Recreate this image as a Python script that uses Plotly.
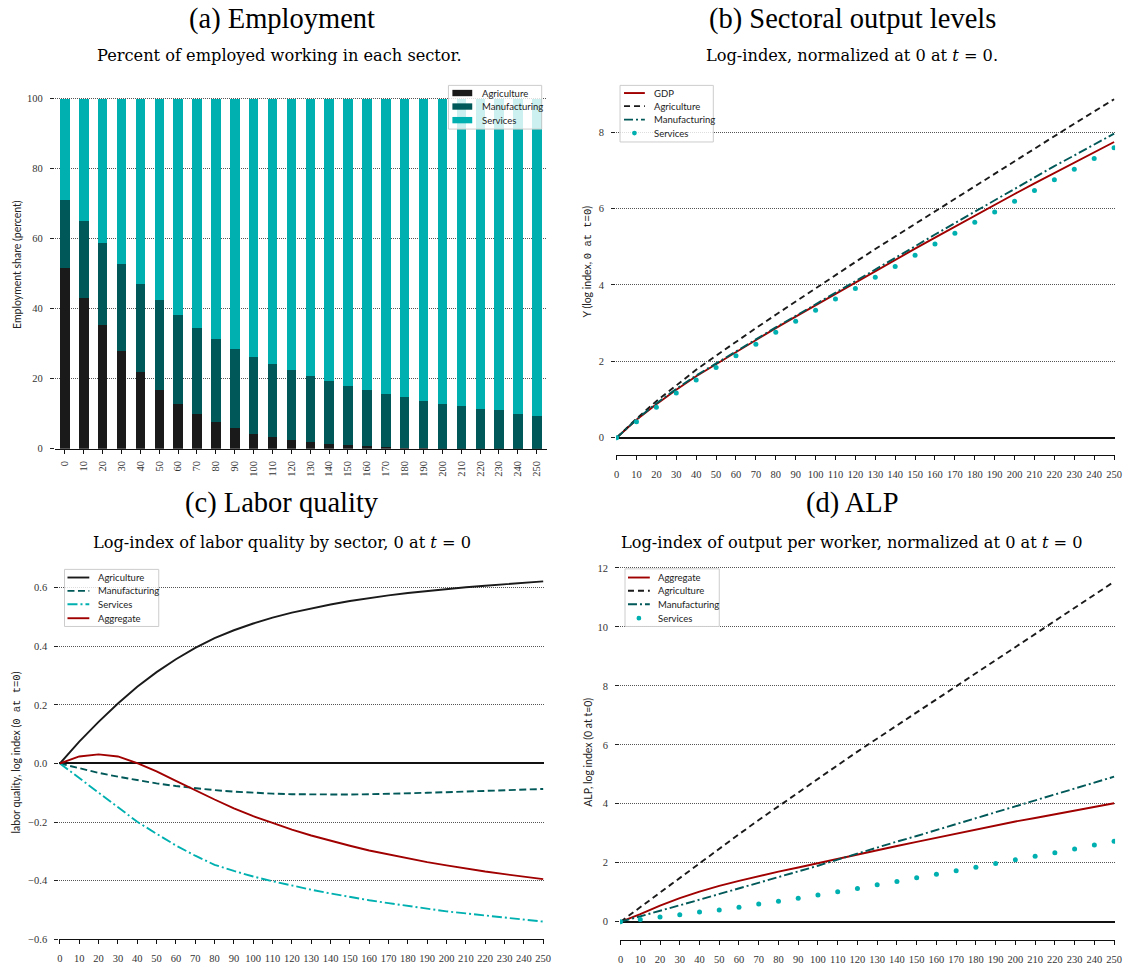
import plotly.graph_objects as go

W, H = 1132, 972


def fx(p):
    return p / W


def fy(p):
    return 1 - p / H


years = list(range(0, 251, 10))

# (a) employment shares, percent of employed
emp_agriculture = [51.5, 43.2, 35.3, 28.0, 22.0, 16.9, 12.9, 10.1, 7.6, 5.9, 4.4, 3.3, 2.5,
                   1.9, 1.3, 1.0, 0.8, 0.5, 0.3, 0.2, 0.1, 0.1, 0.05, 0.03, 0.02, 0.01]
emp_manufacturing = [19.5, 21.9, 23.5, 24.9, 25.2, 25.5, 25.2, 24.4, 23.8, 22.6, 21.9, 21.0, 20.1,
                     19.0, 18.2, 17.0, 16.1, 15.3, 14.6, 13.6, 12.8, 12.3, 11.45, 10.97, 10.08, 9.49]
emp_services = [round(100 - a - m, 2) for a, m in zip(emp_agriculture, emp_manufacturing)]

# (b) sectoral output, log index
out_gdp = [0, 0.47, 0.88, 1.26, 1.61, 1.93, 2.25, 2.56, 2.87, 3.17, 3.47, 3.77, 4.07,
           4.37, 4.66, 4.95, 5.24, 5.53, 5.82, 6.10, 6.38, 6.66, 6.93, 7.20, 7.47, 7.74]
out_agriculture = [0, 0.50, 0.96, 1.38, 1.78, 2.15, 2.52, 2.87, 3.22, 3.57, 3.92, 4.26, 4.60,
                   4.94, 5.27, 5.60, 5.93, 6.26, 6.59, 6.92, 7.24, 7.57, 7.89, 8.22, 8.54, 8.86]
out_manufacturing = [0, 0.48, 0.90, 1.28, 1.63, 1.95, 2.27, 2.58, 2.89, 3.19, 3.49, 3.79, 4.10,
                     4.41, 4.71, 5.01, 5.32, 5.62, 5.92, 6.22, 6.52, 6.82, 7.11, 7.39, 7.68, 7.96]
out_services = [0, 0.42, 0.80, 1.17, 1.51, 1.84, 2.15, 2.45, 2.76, 3.05, 3.34, 3.63, 3.91,
                4.20, 4.48, 4.78, 5.07, 5.35, 5.64, 5.91, 6.19, 6.47, 6.75, 7.03, 7.31, 7.59]

# (c) labor quality, log index
lq_agriculture = [0, 0.075, 0.142, 0.205, 0.262, 0.312, 0.356, 0.395, 0.428, 0.455, 0.478, 0.498, 0.515,
                  0.530, 0.543, 0.555, 0.565, 0.574, 0.582, 0.589, 0.596, 0.602, 0.607, 0.612, 0.617, 0.622]
lq_manufacturing = [0, -0.017, -0.032, -0.045, -0.057, -0.068, -0.077, -0.085, -0.091, -0.096, -0.100,
                    -0.103, -0.105, -0.106, -0.106, -0.106, -0.105, -0.104, -0.102, -0.100, -0.098,
                    -0.096, -0.094, -0.092, -0.089, -0.087]
lq_services = [0, -0.050, -0.100, -0.151, -0.199, -0.240, -0.280, -0.315, -0.346, -0.367, -0.386,
               -0.402, -0.417, -0.431, -0.444, -0.456, -0.467, -0.477, -0.487, -0.496, -0.505,
               -0.512, -0.519, -0.526, -0.533, -0.540]
lq_aggregate = [0, 0.024, 0.031, 0.024, 0.001, -0.027, -0.059, -0.092, -0.123, -0.153, -0.180,
                -0.203, -0.226, -0.246, -0.264, -0.281, -0.297, -0.311, -0.325, -0.337, -0.348,
                -0.359, -0.369, -0.378, -0.387, -0.395]

# (d) output per worker, log index
alp_aggregate = [0, 0.26, 0.55, 0.80, 1.02, 1.22, 1.39, 1.55, 1.70, 1.84, 1.99, 2.13, 2.28,
                 2.43, 2.57, 2.71, 2.85, 2.99, 3.13, 3.27, 3.40, 3.52, 3.65, 3.77, 3.90, 4.02]
alp_agriculture = [0, 0.50, 1.00, 1.50, 2.00, 2.49, 2.97, 3.45, 3.92, 4.39, 4.85, 5.31, 5.77,
                   6.22, 6.66, 7.10, 7.54, 7.98, 8.42, 8.86, 9.30, 9.74, 10.18, 10.63, 11.08, 11.53]
alp_manufacturing = [0, 0.18, 0.37, 0.56, 0.75, 0.94, 1.13, 1.32, 1.51, 1.71, 1.90, 2.11, 2.32,
                     2.52, 2.72, 2.91, 3.11, 3.31, 3.51, 3.71, 3.91, 4.11, 4.31, 4.51, 4.72, 4.92]
alp_services = [0, 0.08, 0.16, 0.24, 0.33, 0.40, 0.49, 0.60, 0.70, 0.80, 0.91, 1.02, 1.13,
                1.26, 1.37, 1.49, 1.61, 1.73, 1.85, 1.98, 2.10, 2.22, 2.34, 2.47, 2.60, 2.73]

BLACK = "#1a1a1a"
DARK_TEAL = "#005858"
TEAL = "#00b0b0"
RED = "#a00000"
DASH = "6px,4px"
DASHDOT = "9px,3px,2px,3px"
SERIF = "Liberation Serif"
SUB_SERIF = "DejaVu Serif"
SANS = "Lato"
MONO = "Liberation Mono"
LW = 1.9

fig = go.Figure()

# ---- (a) stacked employment bars
for vals, col in [(emp_agriculture, BLACK), (emp_manufacturing, DARK_TEAL), (emp_services, TEAL)]:
    fig.add_trace(go.Bar(x=years, y=vals, width=5, marker=dict(color=col, line=dict(width=0)),
                         xaxis="x", yaxis="y", showlegend=False))


def line(xa, ya, ys, color, dash="solid"):
    fig.add_trace(go.Scatter(x=years, y=ys, mode="lines", xaxis=xa, yaxis=ya, showlegend=False,
                             line=dict(color=color, width=LW, dash=dash)))


def dots(xa, ya, ys, color):
    fig.add_trace(go.Scatter(x=years, y=ys, mode="markers", xaxis=xa, yaxis=ya, showlegend=False,
                             marker=dict(color=color, size=5, line=dict(width=0))))


# ---- (b) sectoral output
line("x2", "y2", out_gdp, RED)
line("x2", "y2", out_agriculture, BLACK, DASH)
line("x2", "y2", out_manufacturing, DARK_TEAL, DASHDOT)
dots("x2", "y2", out_services, TEAL)

# ---- (c) labor quality
line("x3", "y3", lq_agriculture, BLACK)
line("x3", "y3", lq_manufacturing, DARK_TEAL, "7px,3.5px")
line("x3", "y3", lq_services, TEAL, "10px,3px,2px,3px")
line("x3", "y3", lq_aggregate, RED)

# ---- (d) ALP
line("x4", "y4", alp_aggregate, RED)
line("x4", "y4", alp_agriculture, BLACK, DASH)
line("x4", "y4", alp_manufacturing, DARK_TEAL, DASHDOT)
dots("x4", "y4", alp_services, TEAL)

tickfont = dict(family=SERIF, size=10.5, color="#333")


def yax(domain_px, rng, tickvals, fmt=None, zero=True):
    d = dict(domain=[fy(domain_px[1]), fy(domain_px[0])], range=rng, tickvals=tickvals,
             showgrid=True, gridcolor="#555", griddash="1px,1px", gridwidth=1,
             ticks="outside", ticklen=4, tickcolor="#222", tickwidth=1,
             ticklabelstandoff=5, tickfont=tickfont, showline=False,
             zeroline=zero, zerolinecolor="#111", zerolinewidth=1.7)
    if fmt:
        d["tickformat"] = fmt
    return d


def xax(domain_px, rng, anchor, angle=0, standoff=4):
    return dict(domain=[fx(domain_px[0]), fx(domain_px[1])], range=rng, anchor=anchor,
                tickvals=years, ticktext=[str(v) for v in years], tickangle=angle,
                showgrid=False, zeroline=False, showline=True, linecolor="#111", linewidth=1.2,
                ticks="outside", ticklen=4, tickcolor="#111", tickwidth=1,
                ticklabelstandoff=standoff, tickfont=tickfont)


fig.update_layout(
    width=W, height=H, margin=dict(l=0, r=0, t=0, b=0),
    paper_bgcolor="white", plot_bgcolor="white", barmode="stack", bargap=0,
    showlegend=False,
    xaxis=xax((53.3, 549), [-5.25, 255.25], "y", angle=-90, standoff=3),
    yaxis=yax((87.4, 451), [0, 103], [0, 20, 40, 60, 80, 100], zero=False),
    xaxis2=xax((619, 1122), [-0.25, 250.5], "y2", standoff=5),
    yaxis2=yax((82, 457.3), [-0.45, 9.3], [0, 2, 4, 6, 8]),
    xaxis3=xax((57.8, 546.5), [-0.3, 250.5], "y3", standoff=5),
    yaxis3=yax((570.4, 945), [-0.6, 0.67], [-0.6, -0.4, -0.2, 0.0, 0.2, 0.4, 0.6], fmt=".1f"),
    xaxis4=xax((623, 1122), [-0.25, 250.5], "y4", standoff=5),
    yaxis4=yax((566.5, 945.9), [-0.62, 12.15], [0, 2, 4, 6, 8, 10, 12]),
)
for k in ["yaxis", "yaxis2", "yaxis3", "yaxis4"]:
    n = k.replace("yaxis", "")
    fig.layout[k].anchor = "x" + n

annotations = []
shapes = []


def text(x, y, s, size, family, anchor="center", angle=0, color="#000"):
    annotations.append(dict(x=fx(x), y=fy(y), xref="paper", yref="paper", text=s, showarrow=False,
                            xanchor=anchor, yanchor="middle", textangle=angle,
                            font=dict(family=family, size=size, color=color)))


# panel titles and subtitles
TS, SS = 28.5, 16.2
text(282, 18, "(a) Employment", TS, SERIF)
text(280, 55, "Percent of employed working in each sector.", SS, SUB_SERIF)
text(857, 18, "(b) Sectoral output levels", TS, SERIF)
text(857, 55, "Log-index, normalized at 0 at <i>t</i> = 0.", SS, SUB_SERIF)
text(282, 506, "(c) Labor quality", TS, SERIF)
text(282, 545, "Log-index of labor quality by sector, 0 at <i>t</i> = 0", SS, SUB_SERIF)
text(857, 506, "(d) ALP", TS, SERIF)
text(857, 545, "Log-index of output per worker, normalized at 0 at <i>t</i> = 0", SS, SUB_SERIF)

# axis titles
mono = lambda s: f"<span style='font-family:{MONO}'>{s}</span>"
text(15, 265, "Employment share (percent)", 10.5, SANS, angle=-90, color="#222")
text(590, 262, "Y (log index, " + mono("0 at t=0") + ")", 10.5, SANS, angle=-90, color="#222")
text(15, 757, "labor quality, log index (" + mono("0 at t=0") + ")", 10.5, SANS, angle=-90, color="#222")
text(590, 757, "ALP, log index (0 at t=0)", 10.5, SANS, angle=-90, color="#222")


def legend(box, sample, text_x, entries):
    x0, y0, x1, y1 = box
    shapes.append(dict(type="rect", xref="paper", yref="paper", x0=fx(x0), x1=fx(x1), y0=fy(y1), y1=fy(y0),
                       fillcolor="rgba(255,255,255,0.8)", line=dict(color="#cccccc", width=1), layer="above"))
    for label, kind, color, dash, y in entries:
        if kind == "patch":
            shapes.append(dict(type="rect", xref="paper", yref="paper", x0=fx(sample[0]), x1=fx(sample[1]),
                               y0=fy(y + 3.2), y1=fy(y - 3.2), fillcolor=color, line=dict(width=0), layer="above"))
        elif kind == "line":
            shapes.append(dict(type="line", xref="paper", yref="paper", x0=fx(sample[0]), x1=fx(sample[1]),
                               y0=fy(y), y1=fy(y), line=dict(color=color, width=LW, dash=dash), layer="above"))
        else:
            cx = (sample[0] + sample[1]) / 2
            shapes.append(dict(type="circle", xref="paper", yref="paper", x0=fx(cx - 2.4), x1=fx(cx + 2.4),
                               y0=fy(y + 2.4), y1=fy(y - 2.4), fillcolor=color, line=dict(width=0), layer="above"))
        text(text_x, y, label, 9.5, SANS, anchor="left", color="#222")


legend((450, 85, 544, 129), (454, 474), 481.5, [
    ("Agriculture", "patch", BLACK, None, 92.7),
    ("Manufacturing", "patch", DARK_TEAL, None, 106.3),
    ("Services", "patch", TEAL, None, 120),
])
legend((623, 85, 717, 142), (627, 648), 655, [
    ("GDP", "line", RED, "solid", 92.7),
    ("Agriculture", "line", BLACK, DASH, 105.9),
    ("Manufacturing", "line", DARK_TEAL, DASHDOT, 119.5),
    ("Services", "dot", TEAL, None, 133),
])
legend((63, 572.5, 158, 630), (66, 88), 94.6, [
    ("Agriculture", "line", BLACK, "solid", 580.7),
    ("Manufacturing", "line", DARK_TEAL, "7px,3.5px", 594.2),
    ("Services", "line", TEAL, "10px,3px,2px,3px", 607.7),
    ("Aggregate", "line", RED, "solid", 621.7),
])
legend((628, 572, 723, 630), (631, 653), 659.3, [
    ("Aggregate", "line", RED, "solid", 580.7),
    ("Agriculture", "line", BLACK, DASH, 594),
    ("Manufacturing", "line", DARK_TEAL, DASHDOT, 607.7),
    ("Services", "dot", TEAL, None, 621.7),
])

fig.update_layout(annotations=annotations, shapes=shapes)
fig.write_html("out.html")
